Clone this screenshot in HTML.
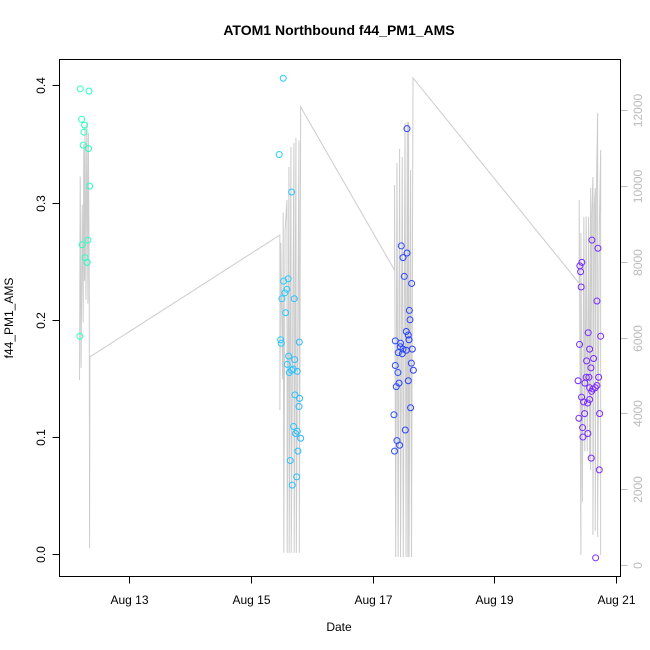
<!DOCTYPE html>
<html><head><meta charset="utf-8"><style>
html,body{margin:0;padding:0;background:#fff}
svg{display:block;font-family:"Liberation Sans",sans-serif}
</style></head><body>
<svg id="chart" width="650" height="650" viewBox="0 0 650 650">
<rect x="0" y="0" width="650" height="650" fill="#fff"/>
<text x="339" y="35" text-anchor="middle" font-size="14" font-weight="bold" fill="#000">ATOM1 Northbound f44_PM1_AMS</text>
<text x="339" y="631" text-anchor="middle" font-size="12" fill="#000">Date</text>
<text transform="translate(13,318) rotate(-90)" text-anchor="middle" font-size="12" fill="#000">f44_PM1_AMS</text>
<g id="lineG"></g>
<g id="ptsG"></g>
<g id="axesG"></g>
<rect x="59.5" y="59.5" width="561" height="517" fill="none" stroke="#000" stroke-width="1"/>
</svg>
<script>
// ---- data ----
const ptDays = [12.191,12.335,12.213,12.262,12.252,12.241,12.328,12.345,12.224,12.318,12.269,12.307,12.186,
15.530,15.464,15.668,15.612,15.536,15.591,15.558,15.508,15.711,15.569,15.487,15.497,15.794,15.619,15.718,15.596,15.695,15.629,15.668,15.761,15.723,15.800,15.789,15.701,15.761,15.734,15.817,15.772,15.645,15.751,15.678,
17.566,17.472,17.566,17.500,17.521,17.642,17.604,17.615,17.554,17.587,17.599,17.373,17.460,17.455,17.500,17.554,17.653,17.422,17.488,17.373,17.637,17.417,17.670,17.587,17.434,17.389,17.625,17.351,17.538,17.401,17.444,17.361,
20.607,20.706,20.442,20.409,20.421,20.431,20.690,20.546,20.751,20.404,20.569,20.635,20.520,20.591,20.513,20.558,20.718,20.380,20.491,20.569,20.624,20.662,20.690,20.602,20.437,20.569,20.470,20.536,20.487,20.734,20.393,20.454,20.459,20.541,20.596,20.728,20.668];
const ptValues = [0.397,0.395,0.371,0.366,0.360,0.349,0.346,0.314,0.264,0.268,0.253,0.249,0.186,
0.406,0.341,0.309,0.235,0.233,0.226,0.223,0.218,0.218,0.206,0.183,0.180,0.181,0.169,0.166,0.162,0.158,0.155,0.157,0.156,0.136,0.133,0.126,0.109,0.105,0.103,0.099,0.088,0.080,0.066,0.059,
0.363,0.263,0.257,0.253,0.237,0.231,0.208,0.200,0.190,0.187,0.183,0.182,0.180,0.177,0.175,0.174,0.175,0.172,0.171,0.161,0.163,0.155,0.157,0.148,0.146,0.143,0.125,0.119,0.106,0.097,0.093,0.088,
0.268,0.261,0.249,0.246,0.241,0.228,0.216,0.189,0.186,0.179,0.175,0.167,0.165,0.159,0.151,0.151,0.151,0.148,0.146,0.142,0.141,0.142,0.144,0.139,0.134,0.132,0.130,0.129,0.120,0.120,0.116,0.108,0.100,0.103,0.082,0.072,-0.003];
const lineDays = [12.180,12.191,12.205,12.225,12.240,12.250,12.262,12.270,12.285,12.300,12.318,12.325,12.340,12.345,12.350,
15.475,15.475,15.490,15.520,15.530,15.540,15.560,15.591,15.595,15.624,15.628,15.657,15.662,15.706,15.710,15.739,15.745,15.789,15.795,15.817,
17.361,17.361,17.380,17.401,17.420,17.444,17.460,17.488,17.505,17.533,17.550,17.571,17.580,17.592,17.600,17.625,17.640,17.665,
20.398,20.398,20.426,20.426,20.450,20.475,20.490,20.513,20.530,20.553,20.570,20.586,20.586,20.605,20.624,20.624,20.645,20.662,20.662,20.680,20.701,20.701,20.730,20.751,20.751];
const lineCounts = [4880,10250,5200,9500,6400,11100,7500,11600,7000,11700,6900,11400,7200,450,5490,
8707,4090,8500,4900,9300,320,8800,9630,320,10500,320,11030,320,11135,320,11270,320,11210,320,12085,
7780,10026,211,10607,211,10976,211,10765,211,11662,211,11689,211,11690,211,10422,211,12850,
7433,9631,264,8760,1662,9182,3000,9200,3000,9190,2800,9947,2506,9300,10237,791,9500,9947,900,9800,11926,739,9000,10950,264];
const xTickDays = [13,15,17,19,21];
const xTickLabels = ["Aug 13","Aug 15","Aug 17","Aug 19","Aug 21"];
const yTicks = [0.0,0.1,0.2,0.3,0.4];
const yTickLabels = ["0.0","0.1","0.2","0.3","0.4"];
const y2Ticks = [0,2000,4000,6000,8000,10000,12000];
const y2TickLabels = ["0","2000","4000","6000","8000","10000","12000"];

// ---- scales ----
function xs(d){return 129.4 + 60.8*(d-13);}
function ys(v){return 554.3 - 1172.5*v;}
function y2s(c){return 565 - 0.0379*c;}
const hueDays=[12.2,15.6,17.5,20.75];
const hueVals=[163,195,232,265];
function hue(d){
  if(d<=hueDays[0])return hueVals[0];
  for(let i=1;i<hueDays.length;i++){if(d<=hueDays[i]){const t=(d-hueDays[i-1])/(hueDays[i]-hueDays[i-1]);return hueVals[i-1]+t*(hueVals[i]-hueVals[i-1]);}}
  return hueVals[hueVals.length-1];
}
const NS="http://www.w3.org/2000/svg";
function mk(tag,attrs,parent){const e=document.createElementNS(NS,tag);for(const k in attrs)e.setAttribute(k,attrs[k]);parent.appendChild(e);return e;}

// line
const lg=document.getElementById('lineG');
let dstr="";
for(let i=0;i<lineDays.length;i++){dstr+=(i?"L":"M")+xs(lineDays[i]).toFixed(2)+","+y2s(lineCounts[i]).toFixed(2);}
const pl=mk('path',{d:dstr,fill:'none',stroke:'#cccccc','stroke-width':'1'},lg);



// points
const pg=document.getElementById('ptsG');
for(let i=0;i<ptDays.length;i++){
  const h=hue(ptDays[i]);
  const c=mk('circle',{cx:xs(ptDays[i]).toFixed(2),cy:ys(ptValues[i]).toFixed(2),r:3,fill:'none',stroke:'hsl('+h.toFixed(0)+',100%,58%)','stroke-width':'1'},pg);
  
  
}

// axes
const ag=document.getElementById('axesG');
const xl=mk('line',{x1:xs(13),x2:xs(21),y1:576.5,y2:576.5,stroke:'#000'},ag);


for(let i=0;i<xTickDays.length;i++){
  const x=Math.round(xs(xTickDays[i]))+0.5;
  const t=mk('line',{x1:x,x2:x,y1:576.5,y2:583.5,stroke:'#000'},ag);
  
  
  const tx=mk('text',{x:x,y:604,'text-anchor':'middle','font-size':'12',fill:'#000'},ag);
  tx.textContent=xTickLabels[i];
  
  
}
const yl=mk('line',{x1:59.5,x2:59.5,y1:ys(0.4),y2:ys(0),stroke:'#000'},ag);


for(let i=0;i<yTicks.length;i++){
  const y=Math.round(ys(yTicks[i]))+0.5;
  const t=mk('line',{x1:52.5,x2:59.5,y1:y,y2:y,stroke:'#000'},ag);
  
  
  const tx=mk('text',{transform:'translate(45,'+y+') rotate(-90)','text-anchor':'middle','font-size':'12',fill:'#000'},ag);
  tx.textContent=yTickLabels[i];
  
  
}
const y2l=mk('line',{x1:620.5,x2:620.5,y1:y2s(12000),y2:y2s(0),stroke:'#bbbbbb'},ag);


for(let i=0;i<y2Ticks.length;i++){
  const y=Math.round(y2s(y2Ticks[i]))+0.5;
  const t=mk('line',{x1:620.5,x2:627.5,y1:y,y2:y,stroke:'#bbbbbb'},ag);
  
  
  const tx=mk('text',{transform:'translate(642,'+y+') rotate(-90)','text-anchor':'middle','font-size':'12',fill:'#bbbbbb'},ag);
  tx.textContent=y2TickLabels[i];
  
  
}
</script>
</body></html>
